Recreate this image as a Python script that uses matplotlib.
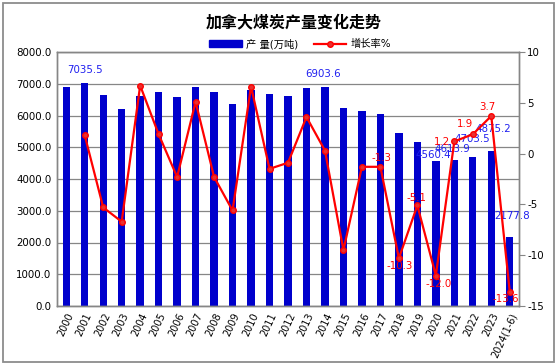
import numpy as np
import matplotlib
matplotlib.use("Agg")
import matplotlib.pyplot as plt
from matplotlib.lines import Line2D
from matplotlib.patches import Patch, Rectangle

plt.rcParams['font.family'] = ['DejaVu Sans', 'Noto Sans CJK SC']

# data
years = ["2000", "2001", "2002", "2003", "2004", "2005", "2006", "2007", "2008",
         "2009", "2010", "2011", "2012", "2013", "2014", "2015", "2016", "2017",
         "2018", "2019", "2020", "2021", "2022", "2023", "2024(1-6)"]
output = [6910, 7035.5, 6655, 6214, 6620, 6750, 6592, 6898, 6750,
          6372, 6813, 6687, 6614, 6866, 6903.6, 6246, 6152, 6057,
          5439, 5165, 4560.4, 4613.9, 4703.5, 4875.2, 2177.8]
# growth rate starts at 2001
growth = [1.8, -5.3, -6.7, 6.7, 1.9, -2.3, 5.1, -2.3, -5.6, 6.6,
          -1.5, -0.9, 3.6, 0.3, -9.5, -1.3, -1.3, -10.3, -5.1, -12.0,
          1.2, 1.9, 3.7, -13.6]

# which values get a label, and where the label sits (pixels from the point)
bar_labels = {1: (0, 13), 14: (-2, 13), 20: (-3, 6), 21: (-2, 11),
              22: (0, 18), 23: (2, 22), 24: (2, 21)}
line_labels = {17: (1, 9), 18: (1, -8), 19: (-1, 7), 20: (3, -8),
               21: (-12, -1), 22: (-8, 10), 23: (-4, 9), 24: (-4, -7)}

bar_color = "#0000CC"
line_color = "#FF0000"
grid_color = "#868686"

fig = plt.figure(figsize=(5.56, 3.64), dpi=100)
ax = fig.add_axes([57 / 556, 1 - 306 / 364, 462 / 556, 254 / 364])
ax2 = ax.twinx()

x = np.arange(len(years))
ax.bar(x, output, width=0.4, color=bar_color, zorder=2)
ax.set_xlim(-0.5, len(years) - 0.5)
ax.set_ylim(0, 8000)
ax.set_yticks(np.arange(0, 8001, 1000))
ax.set_yticklabels([f"{v:.1f}" for v in np.arange(0, 8001, 1000)])
ax.yaxis.grid(True, color=grid_color, lw=0.9, zorder=0)
ax.set_axisbelow(True)
ax.set_xticks(x)
ax.set_xticklabels(years, rotation=65, ha="right", rotation_mode="anchor", fontsize=7)
ax.tick_params(axis="y", length=0, labelsize=7.4, pad=4)
ax.tick_params(axis="x", length=0, pad=4)

xg = x[1:]
ax2.plot(xg, growth, color=line_color, lw=1.6, marker="o", ms=4,
         markerfacecolor="#E83030", markeredgecolor=line_color, zorder=3)
ax2.set_ylim(-15, 10)
ax2.set_yticks([10, 5, 0, -5, -10, -15])
ax2.set_yticklabels(["10", "5", "0", "-5", "-10", "-15"])
ax2.tick_params(axis="y", length=4, color=grid_color, labelsize=7.4, pad=2)

for a in (ax, ax2):
    for s in a.spines.values():
        s.set_color(grid_color)
        s.set_linewidth(1.0)

for i, (dx, dy) in bar_labels.items():
    ax.annotate(f"{output[i]:.1f}", (x[i], output[i]), xytext=(dx, dy),
                textcoords="offset pixels", ha="center", va="center",
                fontsize=7.4, color="#2020F0", zorder=5)

for i, (dx, dy) in line_labels.items():
    v = growth[i - 1]
    ax2.annotate(f"{v:.1f}", (x[i], v), xytext=(dx, dy),
                 textcoords="offset pixels", ha="center", va="center",
                 fontsize=7.4, color=line_color, zorder=5)

fig.suptitle("加拿大煤炭产量变化走势", x=294 / 556, y=1 - 22 / 364, va="center",
             fontsize=11.5, fontweight="bold", family=['Noto Sans CJK SC'])

handles = [Patch(facecolor=bar_color, edgecolor=bar_color),
           Line2D([], [], color=line_color, lw=1.6, marker="o", ms=4,
                  markerfacecolor="#E83030")]
fig.legend(handles, ["产 量(万吨)", "增长率%"], loc="center",
           bbox_to_anchor=(300 / 556, 1 - 44 / 364), ncol=2, frameon=False,
           fontsize=7.4, handlelength=3.2, handleheight=0.6, columnspacing=1.5,
           handletextpad=0.4)

fig.patches.append(Rectangle((3 / 556, 2 / 364), 551 / 556, 359 / 364,
                             transform=fig.transFigure, fill=False,
                             edgecolor="#8C8C8C", lw=1.3))

fig.savefig("out.png", dpi=100)
